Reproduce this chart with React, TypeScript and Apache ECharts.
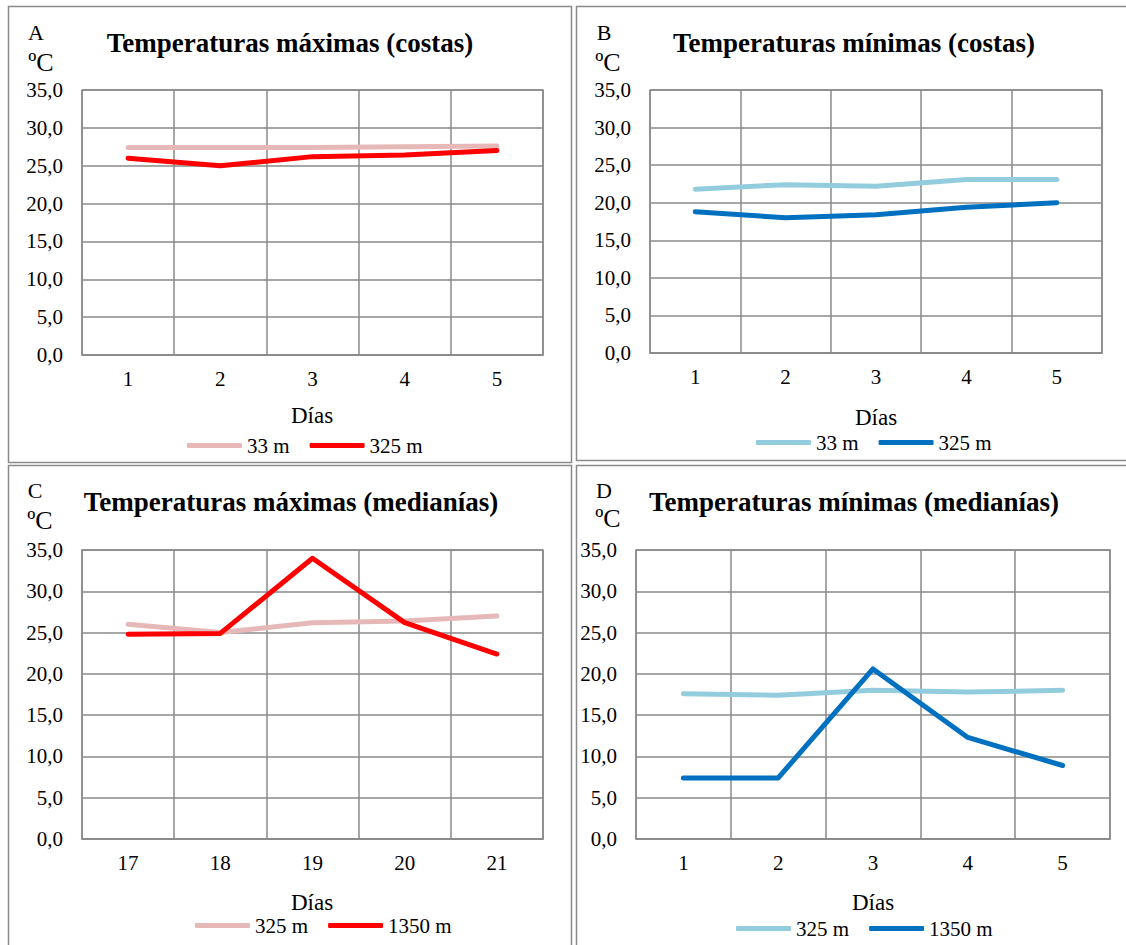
import React, { useEffect, useRef } from "react";
import * as echarts from "echarts";

// ---- Data ----
const daysCostas = ["1", "2", "3", "4", "5"];
const daysMedMax = ["17", "18", "19", "20", "21"];
const daysMedMin = ["1", "2", "3", "4", "5"];

const maxCostas33 = [27.4, 27.4, 27.4, 27.5, 27.6];
const maxCostas325 = [26.0, 25.0, 26.2, 26.4, 27.0];

const minCostas33 = [21.8, 22.4, 22.2, 23.1, 23.1];
const minCostas325 = [18.8, 18.0, 18.4, 19.4, 20.0];

const maxMed325 = [26.0, 25.0, 26.2, 26.4, 27.0];
const maxMed1350 = [24.8, 24.9, 34.0, 26.2, 22.4];

const minMed325 = [17.6, 17.4, 18.0, 17.8, 18.0];
const minMed1350 = [7.4, 7.4, 20.6, 12.3, 8.9];

const yMin = 0;
const yMax = 35;
const yStep = 5;

const FONT = '"Liberation Serif", "Times New Roman", serif';
const GRID_COLOR = "#8a8a8a";

type Panel = {
  key: string;
  letter: string;
  title: string;
  categories: string[];
  s1: { name: string; data: number[]; color: string };
  s2: { name: string; data: number[]; color: string };
  box: { left: number; top: number; width: number; height: number };
  grid: { left: number; top: number; width: number; height: number };
  border: { x: number; y: number; w: number; h: number };
  letterPos: [number, number];
  unitPos: [number, number];
  titlePos: [number, number];
  namePos: [number, number];
  legendPos: [number, number];
};

const panels: Panel[] = [
  {
    key: "A",
    letter: "A",
    title: "Temperaturas máximas (costas)",
    categories: daysCostas,
    s1: { name: "33 m", data: maxCostas33, color: "#E6B9B8" },
    s2: { name: "325 m", data: maxCostas325, color: "#FF0000" },
    box: { left: 0, top: 0, width: 574, height: 464 },
    grid: { left: 82, top: 90, width: 461, height: 265 },
    border: { x: 8.5, y: 6.5, w: 563, h: 456 },
    letterPos: [36, 32],
    unitPos: [41, 62],
    titlePos: [290, 43],
    namePos: [312, 415],
    legendPos: [187, 435],
  },
  {
    key: "B",
    letter: "B",
    title: "Temperaturas mínimas (costas)",
    categories: daysCostas,
    s1: { name: "33 m", data: minCostas33, color: "#93CDDD" },
    s2: { name: "325 m", data: minCostas325, color: "#0070C0" },
    box: { left: 574, top: 0, width: 552, height: 464 },
    grid: { left: 76, top: 90, width: 452, height: 263 },
    border: { x: 2.5, y: 6.5, w: 600, h: 454 },
    letterPos: [30, 32],
    unitPos: [34, 62],
    titlePos: [280, 43],
    namePos: [302, 417],
    legendPos: [182, 432],
  },
  {
    key: "C",
    letter: "C",
    title: "Temperaturas máximas (medianías)",
    categories: daysMedMax,
    s1: { name: "325 m", data: maxMed325, color: "#E6B9B8" },
    s2: { name: "1350 m", data: maxMed1350, color: "#FF0000" },
    box: { left: 0, top: 464, width: 574, height: 481 },
    grid: { left: 82, top: 86, width: 461, height: 289 },
    border: { x: 8.5, y: 1.5, w: 563, h: 600 },
    letterPos: [35, 26],
    unitPos: [40, 56],
    titlePos: [291, 38],
    namePos: [312, 438],
    legendPos: [195, 451],
  },
  {
    key: "D",
    letter: "D",
    title: "Temperaturas mínimas (medianías)",
    categories: daysMedMin,
    s1: { name: "325 m", data: minMed325, color: "#93CDDD" },
    s2: { name: "1350 m", data: minMed1350, color: "#0070C0" },
    box: { left: 574, top: 464, width: 552, height: 481 },
    grid: { left: 62, top: 86, width: 474, height: 289 },
    border: { x: 2.5, y: 1.5, w: 600, h: 600 },
    letterPos: [30, 26],
    unitPos: [34, 54],
    titlePos: [280, 38],
    namePos: [299, 438],
    legendPos: [162, 454],
  },
];

function buildOption(p: Panel) {
  const text = (t: string, pos: [number, number], size: number, weight = "normal") => ({
    type: "text",
    x: pos[0],
    y: pos[1],
    silent: true,
    style: {
      text: t,
      fill: "#000",
      fontSize: size,
      fontFamily: FONT,
      fontWeight: weight,
      align: "center",
      verticalAlign: "middle",
    },
  });
  const line = (s: { name: string; data: number[]; color: string }) => ({
    type: "line",
    name: s.name,
    data: s.data,
    symbol: "none",
    showSymbol: false,
    color: s.color,
    lineStyle: { color: s.color, width: 5, cap: "round", join: "round" },
  });
  return {
    animation: false,
    backgroundColor: "#fff",
    grid: {
      ...p.grid,
      show: true,
      borderColor: GRID_COLOR,
      borderWidth: 1.5,
      containLabel: false,
    },
    xAxis: {
      type: "category",
      data: p.categories,
      boundaryGap: true,
      axisLine: { show: true, lineStyle: { color: GRID_COLOR, width: 1.5 } },
      axisTick: { show: false },
      splitLine: { show: true, interval: 0, lineStyle: { color: GRID_COLOR, width: 1.5 } },
      axisLabel: { color: "#000", fontSize: 21, fontFamily: FONT, margin: 13, interval: 0 },
    },
    yAxis: {
      type: "value",
      min: yMin,
      max: yMax,
      interval: yStep,
      axisLine: { show: false },
      axisTick: { show: false },
      splitLine: { show: true, lineStyle: { color: GRID_COLOR, width: 1.5 } },
      axisLabel: {
        color: "#000",
        fontSize: 21,
        fontFamily: FONT,
        margin: 19,
        formatter: (v: number) => v.toFixed(1).replace(".", ","),
      },
    },
    legend: {
      left: p.legendPos[0],
      top: p.legendPos[1],
      padding: 0,
      itemWidth: 55,
      itemHeight: 5,
      itemGap: 20,
      icon: "roundRect",
      selectedMode: false,
      data: [p.s1.name, p.s2.name],
      textStyle: { color: "#000", fontSize: 21, fontFamily: FONT, padding: [0, 0, 0, 0] },
    },
    graphic: [
      {
        type: "rect",
        silent: true,
        shape: { x: p.border.x, y: p.border.y, width: p.border.w, height: p.border.h },
        style: { fill: "none", stroke: GRID_COLOR, lineWidth: 1.5 },
      },
      text(p.letter, p.letterPos, 22),
      text("ºC", p.unitPos, 26),
      text(p.title, p.titlePos, 27, "bold"),
      text("Días", p.namePos, 23),
    ],
    series: [line(p.s1), line(p.s2)],
  };
}

function ChartPanel({ p }: { p: Panel }) {
  const ref = useRef<HTMLDivElement | null>(null);
  useEffect(() => {
    if (!ref.current) return;
    const chart = echarts.init(ref.current, null, { renderer: "svg" });
    chart.setOption(buildOption(p) as any);
    return () => chart.dispose();
  }, [p]);
  return (
    <div
      ref={ref}
      style={{
        position: "absolute",
        left: p.box.left,
        top: p.box.top,
        width: p.box.width,
        height: p.box.height,
      }}
    />
  );
}

export default function App() {
  return (
    <div
      style={{
        position: "absolute",
        left: 0,
        top: 0,
        width: 1126,
        height: 945,
        background: "#fff",
        overflow: "hidden",
      }}
    >
      {panels.map((p) => (
        <ChartPanel key={p.key} p={p} />
      ))}
    </div>
  );
}
